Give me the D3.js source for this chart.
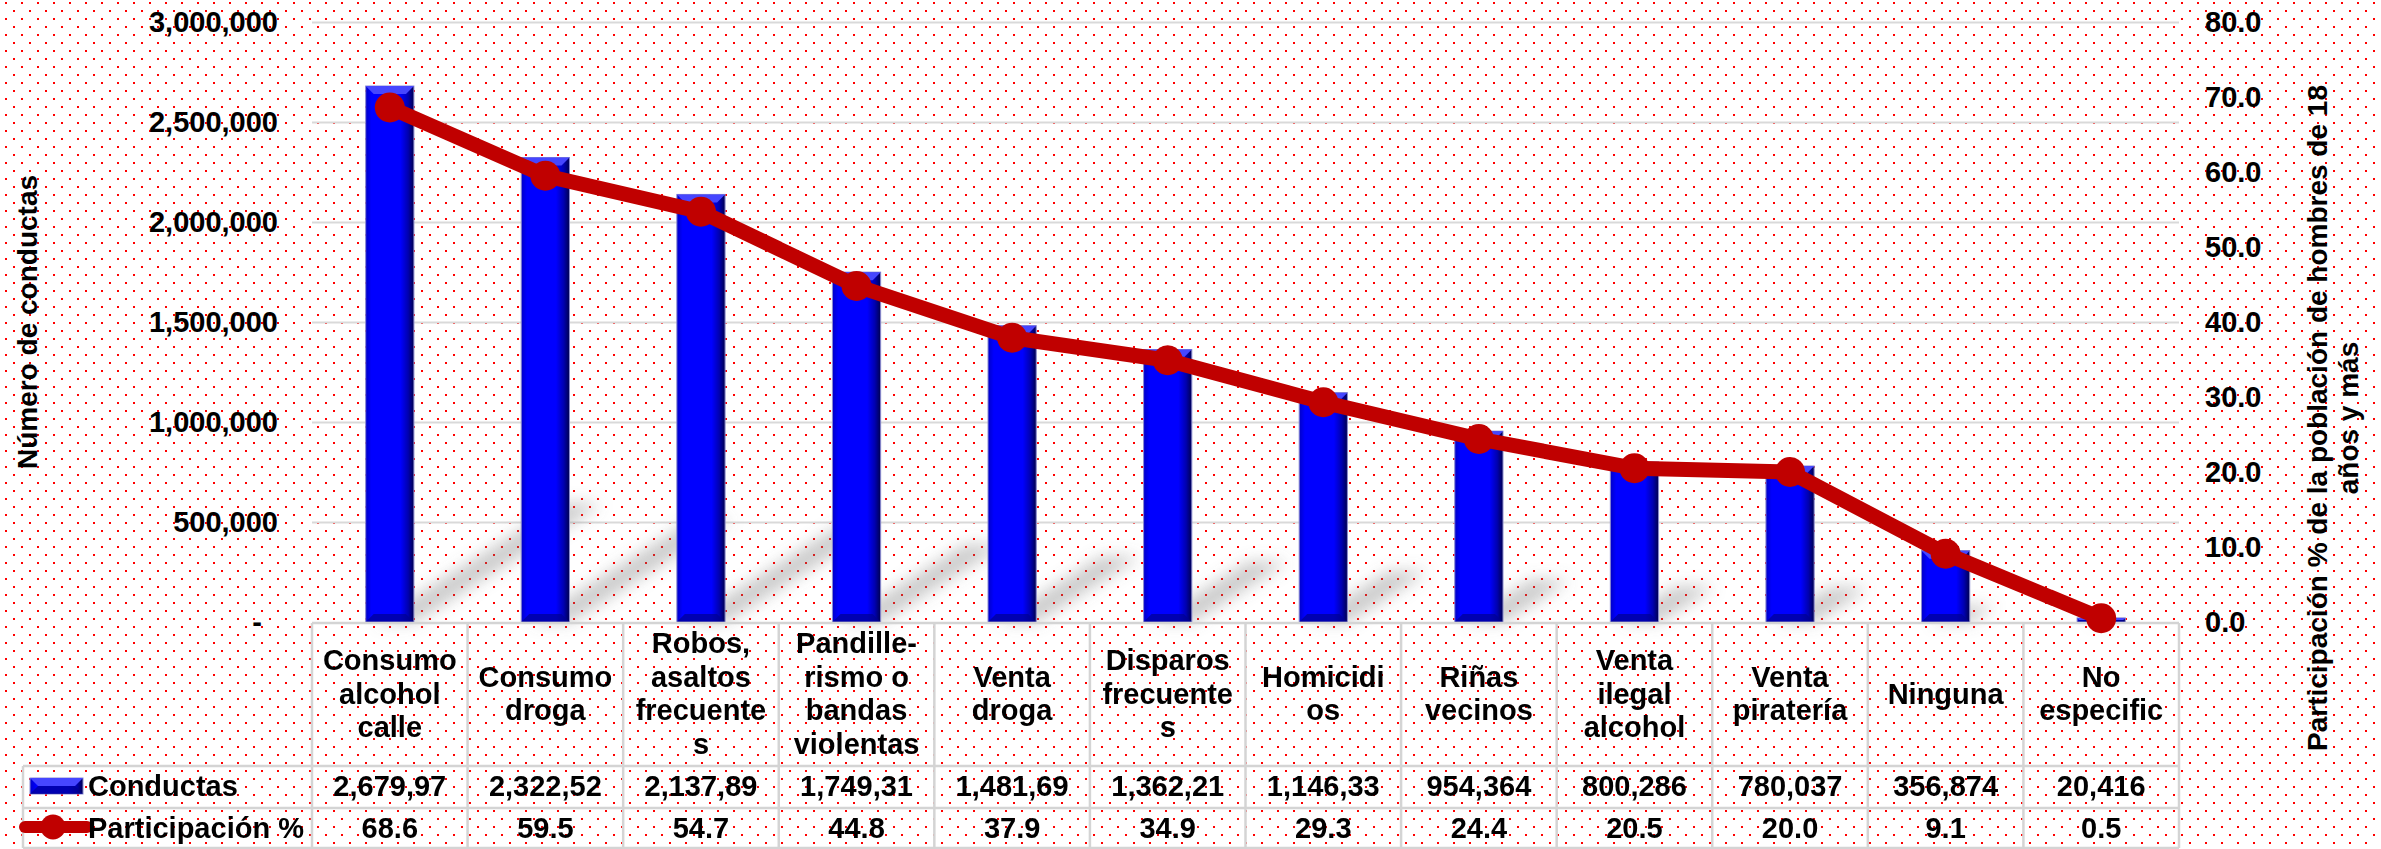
<!DOCTYPE html>
<html>
<head>
<meta charset="utf-8">
<script src="https://cdn.jsdelivr.net/npm/d3@7"></script>
<style>
  html, body { margin: 0; padding: 0; background: #fff; }
  svg text { font-family: "Liberation Sans", Arial, sans-serif; font-weight: bold; fill: #000; }
</style>
</head>
<body>
<div id="chart"></div>
<script>
// categories as they wrap in the data table
const categoryLines = [
  ["Consumo", "alcohol", "calle"],
  ["Consumo", "droga"],
  ["Robos,", "asaltos", "frecuente", "s"],
  ["Pandille-", "rismo o", "bandas", "violentas"],
  ["Venta", "droga"],
  ["Disparos", "frecuente", "s"],
  ["Homicidi", "os"],
  ["Riñas", "vecinos"],
  ["Venta", "ilegal", "alcohol"],
  ["Venta", "piratería"],
  ["Ninguna"],
  ["No", "especific"]
];
const conductas = [2679970, 2322520, 2137890, 1749310, 1481690, 1362210, 1146330, 954364, 800286, 780037, 356874, 20416];
const participacion = [68.6, 59.5, 54.7, 44.8, 37.9, 34.9, 29.3, 24.4, 20.5, 20.0, 9.1, 0.5];
const leftTicks = [0, 500000, 1000000, 1500000, 2000000, 2500000, 3000000];
const rightTicks = [0, 10, 20, 30, 40, 50, 60, 70, 80];
const seriesNames = ["Conductas", "Participación %"];
const leftTitle = "Número de conductas";
const rightTitle = ["Participación % de la población de hombres de 18", "años y más"];

const W = 2381, H = 849;
const plot = { left: 312, right: 2179, top: 22, bottom: 622 };
const rows = { cat: 623, val: 766, pct: 808, end: 848 };
const lineColor = "#C00000";
const gridColor = "#d9d9d9";

const svg = d3.select("#chart").append("svg")
  .attr("width", W)
  .attr("height", H);

const defs = svg.append("defs");

const pat = defs.append("pattern")
  .attr("id", "dots")
  .attr("width", 16).attr("height", 16)
  .attr("patternUnits", "userSpaceOnUse");
pat.append("rect").attr("x", 5).attr("y", 2).attr("width", 2).attr("height", 2).attr("fill", "#ff0000");
pat.append("rect").attr("x", 13).attr("y", 10).attr("width", 2).attr("height", 2).attr("fill", "#ff0000");

const grad = defs.append("linearGradient").attr("id", "barGrad")
  .attr("x1", 0).attr("x2", 1).attr("y1", 0).attr("y2", 0);
grad.append("stop").attr("offset", "0%").attr("stop-color", "#0000c8");
grad.append("stop").attr("offset", "12%").attr("stop-color", "#0000ff");
grad.append("stop").attr("offset", "72%").attr("stop-color", "#0000ff");
grad.append("stop").attr("offset", "88%").attr("stop-color", "#0000b0");
grad.append("stop").attr("offset", "100%").attr("stop-color", "#000050");

defs.append("filter").attr("id", "blur")
  .attr("x", "-50%").attr("y", "-50%").attr("width", "200%").attr("height", "200%")
  .append("feGaussianBlur").attr("stdDeviation", 8);

svg.append("rect").attr("width", W).attr("height", H).attr("fill", "#fff");
svg.append("rect").attr("width", W).attr("height", H).attr("fill", "url(#dots)");

// scales
const idx = d3.range(categoryLines.length);
const x = d3.scaleBand().domain(idx).range([plot.left, plot.right])
  .paddingInner(0.69).paddingOuter(0.345);
const col = d3.scaleBand().domain(idx).range([plot.left, plot.right]);
const xc = i => x(i) + x.bandwidth() / 2;
const yL = d3.scaleLinear().domain([0, 3000000]).range([plot.bottom, plot.top]);
const yR = d3.scaleLinear().domain([0, 80]).range([plot.bottom, plot.top]);

// gridlines
const grid = svg.append("g")
  .attr("transform", `translate(${plot.left},0)`)
  .call(d3.axisRight(yL).tickValues(leftTicks.filter(d => d > 0)).tickSize(plot.right - plot.left).tickFormat(""));
grid.select(".domain").remove();
grid.selectAll("line").attr("stroke", gridColor).attr("stroke-width", 2);

// left axis
const axL = svg.append("g")
  .attr("transform", `translate(${plot.left},0)`)
  .call(d3.axisLeft(yL).tickValues(leftTicks).tickSize(0).tickPadding(34)
    .tickFormat(d => d === 0 ? "-" : d3.format(",")(d)));
axL.select(".domain").remove();
axL.selectAll("text")
  .attr("font-size", 29)
  .attr("dx", d => d === 0 ? -16 : 0);

// right axis
const axR = svg.append("g")
  .attr("transform", `translate(${plot.right},0)`)
  .call(d3.axisRight(yR).tickValues(rightTicks).tickSize(0).tickPadding(26)
    .tickFormat(d3.format(".1f")));
axR.select(".domain").remove();
axR.selectAll("text").attr("font-size", 29);

// axis titles
svg.append("text")
  .attr("transform", `translate(37,${(plot.top + plot.bottom) / 2}) rotate(-90)`)
  .attr("text-anchor", "middle")
  .attr("font-size", 28)
  .text(leftTitle);

svg.selectAll(".rtitle")
  .data(rightTitle)
  .enter()
  .append("text")
  .attr("class", "rtitle")
  .attr("transform", (d, i) => `translate(${2327 + i * 31},418) rotate(-90)`)
  .attr("text-anchor", "middle")
  .attr("font-size", 28)
  .text(d => d);

// bar shadows
const bw = x.bandwidth();
svg.append("g")
  .attr("filter", "url(#blur)")
  .selectAll("polygon")
  .data(conductas)
  .enter()
  .append("polygon")
  .attr("points", (d, i) => {
    const h = plot.bottom - yL(d);
    const x0 = x(i), x1 = x(i) + bw, b = plot.bottom;
    return [[x0 + 10, b], [x1, b], [x1 + 0.35 * h, b - 0.22 * h], [x0 + 10 + 0.35 * h, b - 0.22 * h]].join(" ");
  })
  .attr("fill", "#707070")
  .attr("opacity", 0.38);

function bevelBar(g, x0, y0, w, h) {
  g.append("rect")
    .attr("x", x0).attr("y", y0).attr("width", w).attr("height", h)
    .attr("fill", "url(#barGrad)")
    .attr("stroke", "#8a8ad0").attr("stroke-width", 1);
  const b = Math.min(8, h / 2);
  g.append("polygon")
    .attr("points", [[x0, y0], [x0 + w, y0], [x0 + w - b, y0 + b], [x0 + b, y0 + b]].join(" "))
    .attr("fill", "#4646ff");
  g.append("polygon")
    .attr("points", [[x0, y0 + h], [x0 + w, y0 + h], [x0 + w - b, y0 + h - b], [x0 + b, y0 + h - b]].join(" "))
    .attr("fill", "#000090")
    .attr("opacity", 0.7);
}

// bars
const barG = svg.append("g");
conductas.forEach((d, i) => {
  bevelBar(barG.append("g"), x(i), yL(d), bw, plot.bottom - yL(d));
});

// table borders
const tbl = svg.append("g").attr("stroke", "#d4d4d4").attr("stroke-width", 2.5).attr("fill", "none");
tbl.append("line").attr("x1", plot.left).attr("x2", plot.right).attr("y1", rows.cat).attr("y2", rows.cat);
[rows.val, rows.pct, rows.end].forEach(y => {
  tbl.append("line").attr("x1", 23).attr("x2", plot.right).attr("y1", y).attr("y2", y);
});
tbl.append("line").attr("x1", 23).attr("x2", 23).attr("y1", rows.val).attr("y2", rows.end);
idx.concat([idx.length]).forEach(i => {
  const xx = i < idx.length ? col(i) : plot.right;
  tbl.append("line").attr("x1", xx).attr("x2", xx).attr("y1", rows.cat).attr("y2", rows.end);
});

// category labels
const catG = svg.append("g").attr("text-anchor", "middle").attr("font-size", 29);
categoryLines.forEach((lines, i) => {
  const t = catG.append("text").attr("font-size", 29);
  lines.forEach((s, k) => {
    t.append("tspan")
      .attr("x", xc(i))
      .attr("y", 703.5 - (lines.length - 1) / 2 * 33.5 + k * 33.5)
      .text(s);
  });
});

// value rows (data table clips long numbers)
svg.append("g").selectAll("text")
  .data(conductas)
  .enter()
  .append("text")
  .attr("x", (d, i) => xc(i))
  .attr("y", 796)
  .attr("text-anchor", "middle")
  .attr("font-size", 29)
  .text(d => d3.format(",")(d).slice(0, 8));

svg.append("g").selectAll("text")
  .data(participacion)
  .enter()
  .append("text")
  .attr("x", (d, i) => xc(i))
  .attr("y", 838)
  .attr("text-anchor", "middle")
  .attr("font-size", 29)
  .text(d => d3.format(".1f")(d));

// legend keys
bevelBar(svg.append("g"), 30, 778, 53, 16);
svg.append("line")
  .attr("x1", 25).attr("x2", 87).attr("y1", 827).attr("y2", 827)
  .attr("stroke", lineColor).attr("stroke-width", 12).attr("stroke-linecap", "round");
svg.append("circle").attr("cx", 53).attr("cy", 827).attr("r", 12.5).attr("fill", lineColor);
svg.append("text").attr("x", 88).attr("y", 796).attr("font-size", 29).text(seriesNames[0]);
svg.append("text").attr("x", 88).attr("y", 838).attr("font-size", 29).text(seriesNames[1]);

// participation line
const line = d3.line()
  .x((d, i) => xc(i))
  .y(d => yR(d));

svg.append("path")
  .datum(participacion)
  .attr("d", line)
  .attr("fill", "none")
  .attr("stroke", lineColor)
  .attr("stroke-width", 15)
  .attr("stroke-linejoin", "round");

svg.append("g").selectAll("circle")
  .data(participacion)
  .enter()
  .append("circle")
  .attr("cx", (d, i) => xc(i))
  .attr("cy", d => yR(d))
  .attr("r", 15)
  .attr("fill", lineColor);
</script>
</body>
</html>
